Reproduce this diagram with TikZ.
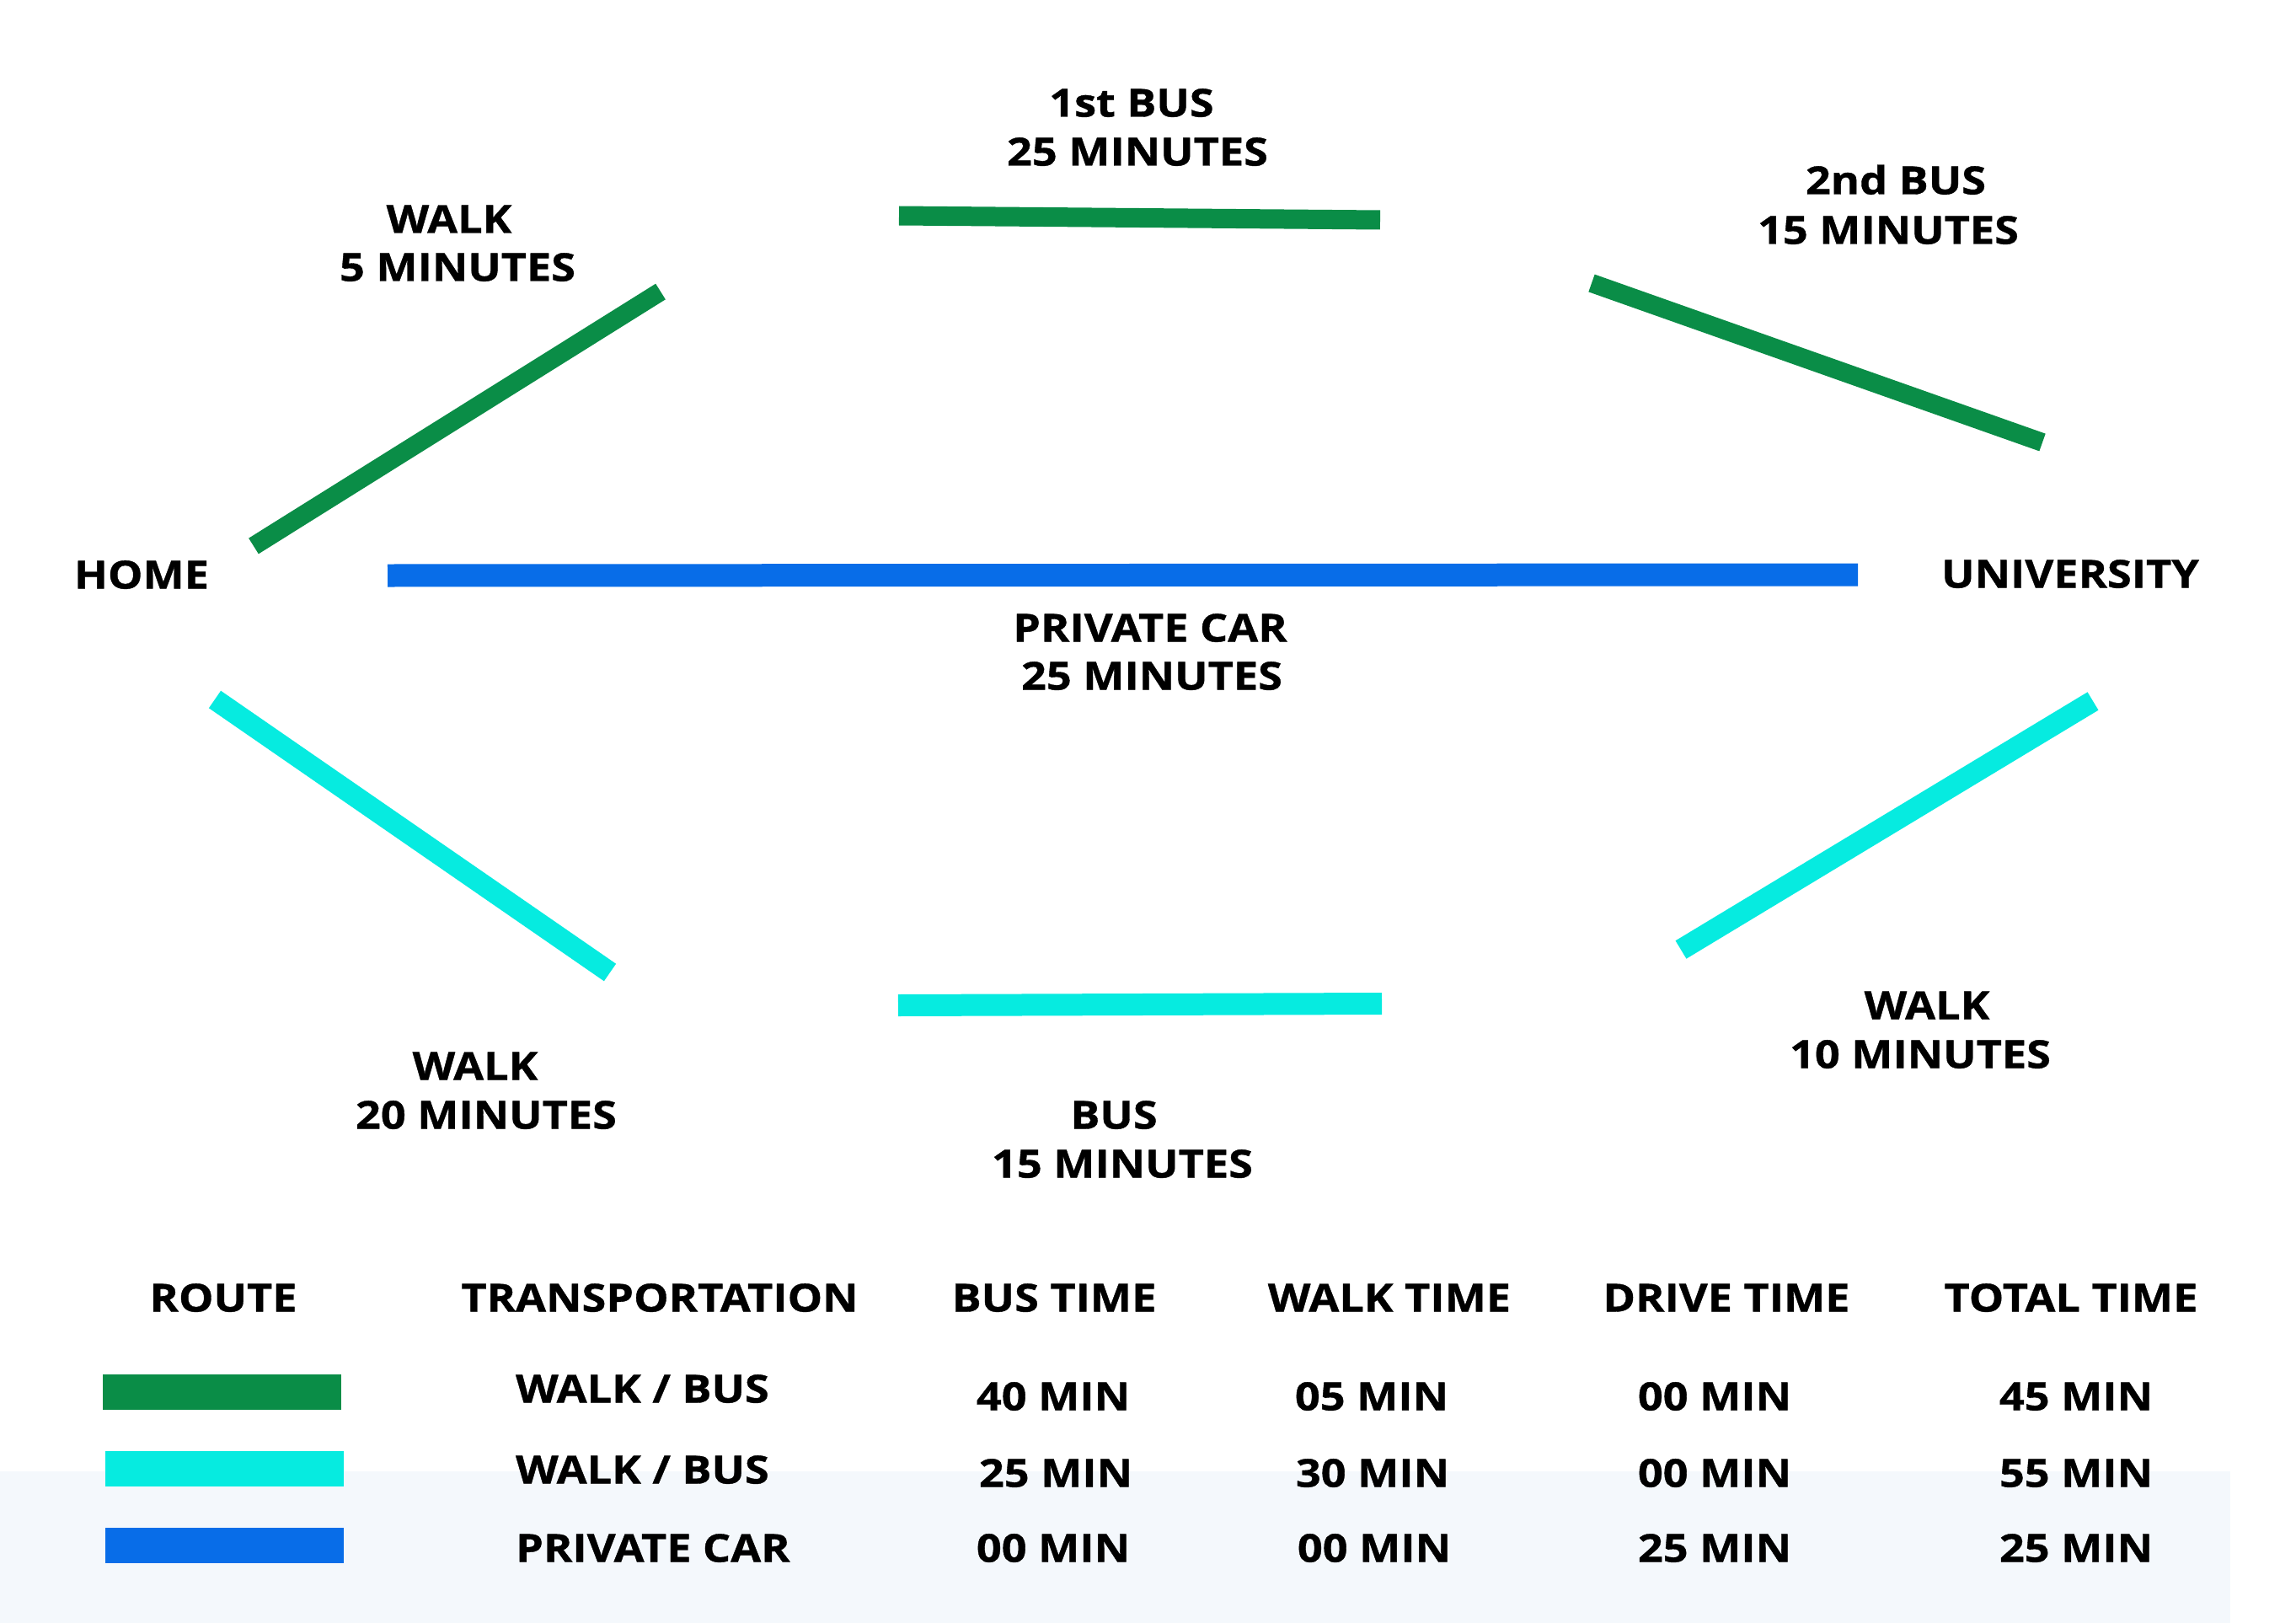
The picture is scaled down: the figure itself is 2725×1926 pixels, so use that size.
\documentclass[tikz,border=0pt]{standalone}
\usepackage{fontspec}
\setmainfont{Open Sans}[BoldFont={* Bold}]
\newfontfamily\lblfont{Open Sans Bold}[FakeStretch=1.135,FakeBold=0.8]
\definecolor{rgreen}{HTML}{0A8D47}
\definecolor{rcyan}{HTML}{06EBE0}
\definecolor{rblue}{HTML}{086DE8}
\definecolor{lightbg}{HTML}{F4F8FC}
\begin{document}
\begin{tikzpicture}[x=1pt,y=-1pt,
  lbl/.style={font=\lblfont\fontsize{46}{52}\selectfont, inner sep=0pt, text height=33pt, text depth=0pt, anchor=center},
  rowlbl/.style={lbl, anchor=west},
  route/.style={line width=#1, line cap=butt},
  lgbox/.style={draw=none, inner sep=0pt, minimum width=283pt, minimum height=42pt}
]
\useasboundingbox (0,0) rectangle (2725,1926);
\fill[white] (0,0) rectangle (2725,1926);
\fill[lightbg] (0,1746) rectangle (2647,1926);

% route end points
\coordinate (g1a) at (301,648);  \coordinate (g1b) at (784,346);
\coordinate (g2a) at (1067,256); \coordinate (g2b) at (1638,261);
\coordinate (g3a) at (1889,336); \coordinate (g3b) at (2424,525);
\coordinate (ba) at (460,683);   \coordinate (bb) at (2205,682);
\coordinate (c1a) at (255,830);  \coordinate (c1b) at (724,1154);
\coordinate (c2a) at (1066,1193);\coordinate (c2b) at (1640,1191);
\coordinate (c3a) at (1995,1127);\coordinate (c3b) at (2484,832);

\draw[route=22pt, rgreen] (g1a) -- (g1b);
\draw[route=23pt, rgreen] (g2a) -- (g2b);
\draw[route=22pt, rgreen] (g3a) -- (g3b);
\draw[route=27pt, rblue] (ba) -- (bb);
\draw[route=25pt, rcyan] (c1a) -- (c1b);
\draw[route=26pt, rcyan] (c2a) -- (c2b);
\draw[route=25pt, rcyan] (c3a) -- (c3b);

% diagram labels
\node[lbl] (home) at (168,682) {HOME};
\node[lbl] (univ) at (2457,681) {UNIVERSITY};
\node[lbl] (w5a) at (533,260) {WALK};
\node[lbl] (w5b) at (543,317) {5 MINUTES};
\node[lbl] (b1a) at (1343,122) {1st BUS};
\node[lbl] (b1b) at (1350,180) {25 MINUTES};
\node[lbl] (b2a) at (2250,214) {2nd BUS};
\node[lbl] (b2b) at (2241,273) {15 MINUTES};
\node[lbl] (pca) at (1365,745) {PRIVATE CAR};
\node[lbl] (pcb) at (1367,802) {25 MINUTES};
\node[lbl] (w20a) at (564,1265) {WALK};
\node[lbl] (w20b) at (577,1323) {20 MINUTES};
\node[lbl] (b15a) at (1322,1323) {BUS};
\node[lbl] (b15b) at (1332,1381) {15 MINUTES};
\node[lbl] (w10a) at (2287,1193) {WALK};
\node[lbl] (w10b) at (2279,1251) {10 MINUTES};

% table header
\node[lbl] (h1) at (265,1540) {ROUTE};
\node[lbl] (h2) at (783,1540) {TRANSPORTATION};
\node[lbl] (h3) at (1251,1540) {BUS TIME};
\node[lbl] (h4) at (1649,1540) {WALK TIME};
\node[lbl] (h5) at (2049,1540) {DRIVE TIME};
\node[lbl] (h6) at (2458,1540) {TOTAL TIME};

% legend boxes
\node[lgbox, fill=rgreen] (lg1) at (263.5,1652) {};
\node[lgbox, fill=rcyan]  (lg2) at (266.5,1743) {};
\node[lgbox, fill=rblue]  (lg3) at (266.5,1834) {};

% rows
\node[rowlbl] (r1t) at (612,1648) {WALK / BUS};
\node[lbl] (r1a) at (1250,1657) {40 MIN};
\node[lbl] (r1b) at (1628,1657) {05 MIN};
\node[lbl] (r1c) at (2035,1657) {00 MIN};
\node[lbl] (r1d) at (2464,1657) {45 MIN};

\node[rowlbl] (r2t) at (612,1744) {WALK / BUS};
\node[lbl] (r2a) at (1253,1748) {25 MIN};
\node[lbl] (r2b) at (1629,1748) {30 MIN};
\node[lbl] (r2c) at (2035,1748) {00 MIN};
\node[lbl] (r2d) at (2464,1748) {55 MIN};

\node[rowlbl] (r3t) at (612,1837) {PRIVATE CAR};
\node[lbl] (r3a) at (1250,1837) {00 MIN};
\node[lbl] (r3b) at (1631,1837) {00 MIN};
\node[lbl] (r3c) at (2035,1837) {25 MIN};
\node[lbl] (r3d) at (2464,1837) {25 MIN};
\end{tikzpicture}
\end{document}
